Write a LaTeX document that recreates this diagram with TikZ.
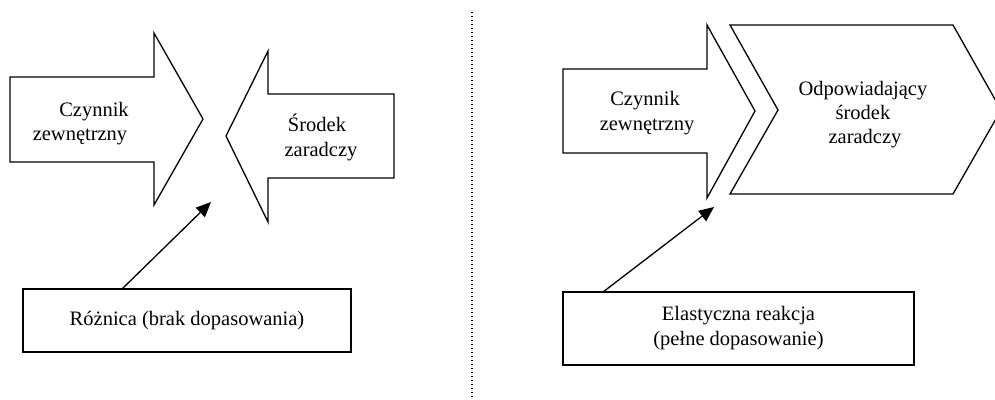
\documentclass[tikz,border=0pt]{standalone}
\usepackage{fontspec}
\setmainfont{Liberation Serif}
\usetikzlibrary{arrows.meta}
\begin{document}
\begin{tikzpicture}[x=1pt,y=-1pt,
  shapeline/.style={draw=black,line width=1.3pt,line join=miter},
  txt/.style={anchor=base,inner sep=0pt,font=\fontsize{20.5}{24}\selectfont},
  boxnode/.style={draw=black,line width=1.4pt,inner sep=0pt,align=center,font=\fontsize{20.5}{25}\selectfont},
  pointer/.style={line width=1.3pt,-{Triangle[length=15pt,width=13pt]}},
  divider/.style={line width=1.2pt,dash pattern=on 1.3pt off 2.7pt}]
\useasboundingbox (0,0) rectangle (995,399);
\clip (0,0) rectangle (995,399);
% left arrow (pointing right)
\draw[shapeline] (10,77) -- (154,77) -- (154,33) -- (203,119) -- (154,205) -- (154,162) -- (10,162) -- cycle;
% left arrow (pointing left)
\draw[shapeline] (394,94) -- (268,94) -- (268,51) -- (226,136) -- (268,222) -- (268,178) -- (394,178) -- cycle;
% right arrow
\draw[shapeline] (563,69) -- (707,69) -- (707,25) -- (755,111) -- (707,198) -- (707,153) -- (563,153) -- cycle;
% chevron
\draw[shapeline] (730,25) -- (953,25) -- (1001,110) -- (953,194) -- (730,194) -- (778,110) -- cycle;
% texts
\node[txt] (t1a) at (94,116) {Czynnik};
\node[txt] (t1b) at (80,140) {zewnętrzny};
\node[txt] (t2a) at (317,131) {Środek};
\node[txt] (t2b) at (321,156) {zaradczy};
\node[txt] (t3a) at (645,105) {Czynnik};
\node[txt] (t3b) at (647,130) {zewnętrzny};
\node[txt] (t4a) at (863,95) {Odpowiadający};
\node[txt] (t4b) at (863,119) {środek};
\node[txt] (t4c) at (865,143) {zaradczy};
% boxes
\node[boxnode,minimum width=328pt,minimum height=63pt] (lbox) at (187,320.5) {Różnica (brak dopasowania)};
\node[boxnode,minimum width=351pt,minimum height=73pt] (rbox) at (738.5,328.5) {Elastyczna reakcja\\(pełne dopasowanie)};
% pointers
\coordinate (lstart) at (122,289);
\coordinate (lend) at (211,202);
\coordinate (rstart) at (603,292);
\coordinate (rend) at (714,207);
\draw[pointer] (lstart) -- (lend);
\draw[pointer] (rstart) -- (rend);
% divider
\coordinate (dtop) at (472,12);
\coordinate (dbot) at (472,398);
\draw[divider] (dtop) -- (dbot);
\end{tikzpicture}
\end{document}
